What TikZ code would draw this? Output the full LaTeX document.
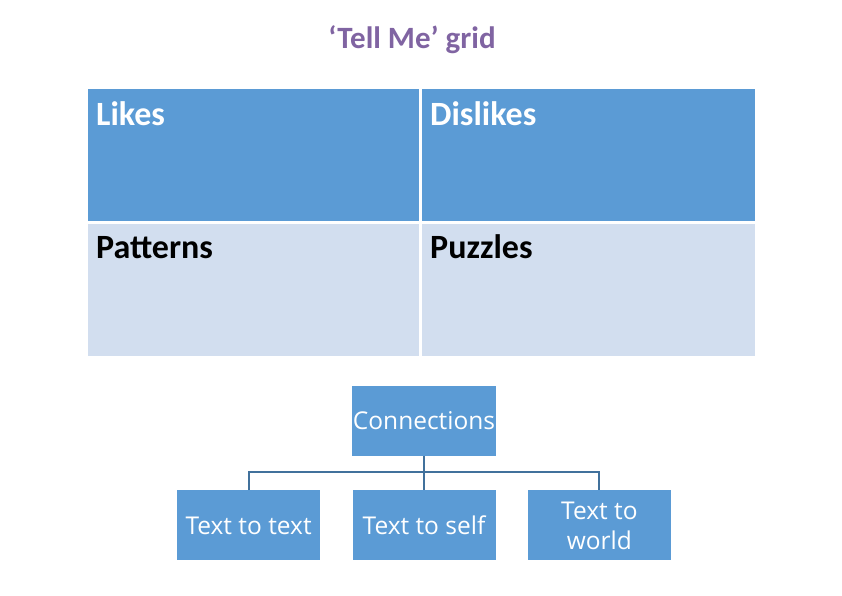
\documentclass[tikz,border=0pt]{standalone}
\usepackage{fontspec}
\setmainfont{Carlito}
\newfontfamily\treefont{Open Sans}
\usepackage{xcolor}
\usetikzlibrary{positioning}
\definecolor{cellblue}{HTML}{5B9BD5}
\definecolor{celllight}{HTML}{D2DEEF}
\definecolor{titlepurple}{HTML}{8064A2}
\definecolor{linkblue}{HTML}{41719C}

\begin{document}
\begin{tikzpicture}[
  x=1pt,y=-1pt,
  node distance=34pt and 32pt,
  cell/.style={draw=none,minimum width=331pt,minimum height=132pt,
               anchor=north west,inner sep=0pt},
  celltext/.style={anchor=base west,inner sep=0pt,
                   font=\fontsize{34}{40}\selectfont\bfseries},
  branch/.style={fill=cellblue,text=white,minimum width=143pt,minimum height=70pt,
                 inner sep=1pt,align=center,font=\treefont\fontsize{24.5}{30}\selectfont},
  link/.style={draw=linkblue,line width=2pt}
]
\useasboundingbox (0,0) rectangle (842,595);
\node[font=\fontsize{31}{36}\selectfont\bfseries,text=titlepurple] (title) at (412,40) {‘Tell Me’ grid};
% grid
\node[cell,fill=cellblue] (likes) at (88,89) {};
\node[celltext,text=white] (likestxt) at ([shift={(8,36)}]likes.north west) {Likes};
\node[cell,fill=cellblue,minimum width=333pt] (dislikes) at (422,89) {};
\node[celltext,text=white] (dislikestxt) at ([shift={(8,36)}]dislikes.north west) {Dislikes};
\node[cell,fill=celllight] (patterns) at (88,224) {};
\node[celltext,text=black] (patternstxt) at ([shift={(8,34)}]patterns.north west) {Patterns};
\node[cell,fill=celllight,minimum width=333pt] (puzzles) at (422,224) {};
\node[celltext,text=black] (puzzlestxt) at ([shift={(8,34)}]puzzles.north west) {Puzzles};
% connections tree
\node[branch,minimum width=142pt] (conn) at (424,421) {Connections};
\node[branch,below=of conn] (self) {Text to self};
\node[branch,left=of self] (text) {Text to text};
\node[branch,right=of self] (world) {Text to\\world};
\coordinate (hub) at ([yshift=-16pt]conn.south);
\draw[link] (conn.south) -- (self.north);
\draw[link] (text.north) |- (hub) -| (world.north);
\end{tikzpicture}
\end{document}
